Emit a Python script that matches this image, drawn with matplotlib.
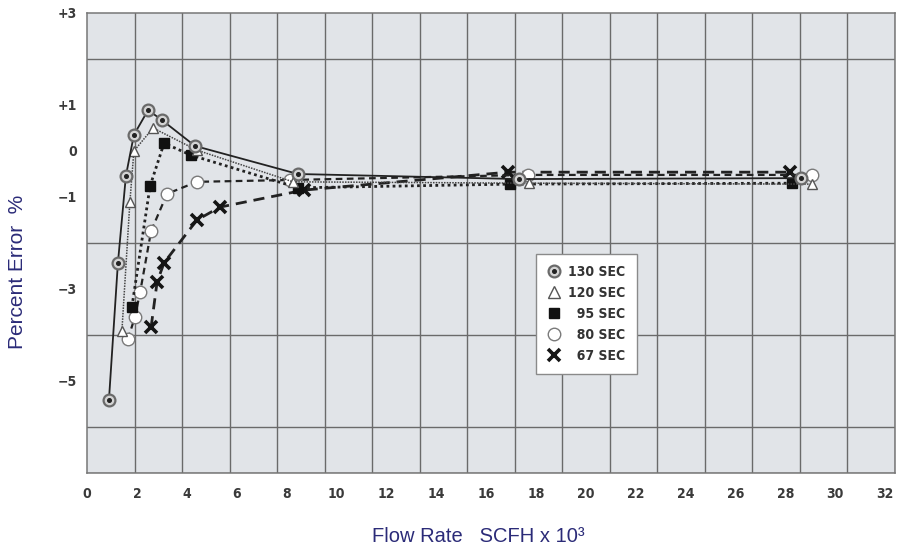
import numpy as np
import matplotlib
matplotlib.use("Agg")
import matplotlib.pyplot as plt
from matplotlib.lines import Line2D
from matplotlib.legend_handler import HandlerTuple
from matplotlib.font_manager import FontProperties

# flow rate (SCFH x 10^3) and percent error for each series
flow_130 = [0.88, 1.24, 1.56, 1.88, 2.45, 3.01, 4.33, 8.46, 17.32, 28.63]
err_130 = [-5.41, -2.43, -0.54, 0.35, 0.89, 0.67, 0.11, -0.50, -0.61, -0.59]

flow_120 = [1.40, 1.72, 1.88, 2.65, 4.40, 8.26, 17.72, 29.07]
err_120 = [-3.91, -1.11, 0.00, 0.50, 0.02, -0.67, -0.70, -0.72]

flow_95 = [1.80, 2.53, 3.09, 4.17, 8.46, 16.96, 28.27]
err_95 = [-3.39, -0.76, 0.17, -0.09, -0.80, -0.72, -0.70]

flow_80 = [1.64, 1.92, 2.13, 2.57, 3.21, 4.41, 8.14, 17.68, 29.07]
err_80 = [-4.09, -3.61, -3.07, -1.74, -0.93, -0.67, -0.63, -0.52, -0.52]

flow_67 = [2.57, 2.81, 3.09, 4.41, 5.33, 8.70, 16.88, 28.19]
err_67 = [-3.83, -2.85, -2.43, -1.50, -1.22, -0.85, -0.46, -0.46]

x_ticks = list(range(0, 33, 2))
y_ticks = [3, 1, 0, -1, -3, -5]
y_tick_labels = ["+3", "+1", "0", "\u22121", "\u22123", "\u22125"]

ink = "#222222"
cond = FontProperties(family="DejaVu Sans", stretch="condensed",
                      weight="bold", size=10)

fig = plt.figure(figsize=(8.99, 5.52), dpi=100)
ax = fig.add_axes([87 / 899, 1 - 473 / 552, 808 / 899, 460 / 552])
ax.set_facecolor("#e1e4e8")

ax.set_xlim(0, 32.4)
ax.set_ylim(-7, 3)

ax.set_xticks(x_ticks)
ax.set_xticklabels([str(t) for t in x_ticks])
ax.set_xticks(np.linspace(0, 32.4, 18), minor=True)
ax.set_yticks(y_ticks)
ax.set_yticklabels(y_tick_labels)
ax.set_yticks(range(-7, 4), minor=True)
ax.grid(which="minor", color="#6a6a6a", linewidth=1.0)
ax.set_axisbelow(True)
ax.tick_params(which="both", length=0)
ax.tick_params(axis="x", pad=10)
ax.tick_params(axis="y", pad=7)
for lab in ax.get_xticklabels() + ax.get_yticklabels():
    lab.set_fontproperties(cond)
    lab.set_color("#3a3a3a")
for sp in ax.spines.values():
    sp.set_color("#777777")
    sp.set_linewidth(1.1)

# 67 SEC
ax.plot(flow_67, err_67, color=ink, lw=2.0, ls=(0, (4, 2.5)),
        marker="x", ms=8, mew=2.6, mec="#151515", zorder=3)
# 80 SEC
ax.plot(flow_80, err_80, color=ink, lw=1.6, ls=(0, (3, 2)),
        marker="o", ms=9, mfc="white", mec="#7a7a7a", mew=1.0, zorder=4)
# 95 SEC
ax.plot(flow_95, err_95, color=ink, lw=2.0, ls=(0, (1, 1.2)),
        marker="s", ms=7.5, mfc="#111111", mec="#111111", zorder=5)
# 120 SEC
ax.plot(flow_120, err_120, color="#444444", lw=1.1, ls=(0, (1, 0.8)),
        marker="^", ms=7.5, mfc="white", mec="#555555", mew=1.0, zorder=6)
# 130 SEC
ax.plot(flow_130, err_130, color=ink, lw=1.3, ls="-",
        marker="o", ms=8.5, mfc="#d4d4d4", mec="#6a6a6a", mew=1.6, zorder=7)
ax.plot(flow_130, err_130, ls="none", marker="o", ms=2.6,
        mfc="#222222", mec="#222222", zorder=8)

h130 = (Line2D([], [], ls="none", marker="o", ms=8.5, mfc="#d4d4d4",
               mec="#6a6a6a", mew=1.6),
        Line2D([], [], ls="none", marker="o", ms=2.6, mfc="#222222",
               mec="#222222"))
h120 = Line2D([], [], ls="none", marker="^", ms=8, mfc="white",
              mec="#555555", mew=1.0)
h95 = Line2D([], [], ls="none", marker="s", ms=7.5, mfc="#111111",
             mec="#111111")
h80 = Line2D([], [], ls="none", marker="o", ms=9, mfc="white",
             mec="#7a7a7a", mew=1.0)
h67 = Line2D([], [], ls="none", marker="x", ms=8, mew=2.6, mec="#151515")

leg = ax.legend([h130, h120, h95, h80, h67],
                ["130 SEC", "120 SEC", "  95 SEC", "  80 SEC", "  67 SEC"],
                handler_map={tuple: HandlerTuple(ndivide=1)},
                loc="upper left", bbox_to_anchor=(0.556, 0.476),
                frameon=True, fancybox=False, framealpha=1.0,
                edgecolor="#8a8a8a", facecolor="white",
                handlelength=1.0, handletextpad=0.5, labelspacing=0.5,
                borderpad=0.8, borderaxespad=0.0,
                prop=FontProperties(family="DejaVu Sans", stretch="condensed",
                                    weight="bold", size=10))
leg.get_frame().set_linewidth(1.0)
for t in leg.get_texts():
    t.set_color("#333333")
leg.set_zorder(10)

fig.text(478 / 899, 1 - 537 / 552, "Flow Rate   SCFH x 10\u00b3",
         ha="center", va="center", fontsize=14.5,
         family=["Liberation Sans", "DejaVu Sans"], color="#2b2b78")
fig.text(18 / 899, 1 - 272 / 552, "Percent Error  %", rotation=90,
         ha="center", va="center", fontsize=15,
         family=["Liberation Sans", "DejaVu Sans"], color="#2b2b78")

fig.savefig("out.png", dpi=100)
